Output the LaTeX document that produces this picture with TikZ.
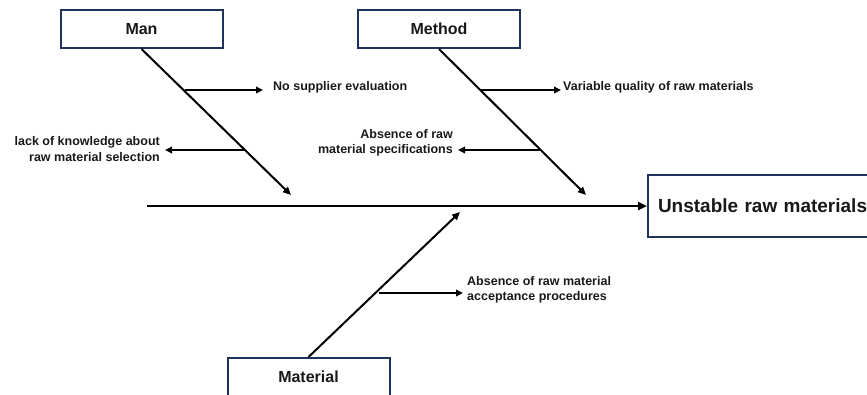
\documentclass[tikz,border=0pt]{standalone}
\usepackage{fontspec}
\setmainfont{Liberation Sans}
\usetikzlibrary{arrows.meta}
\definecolor{boxblue}{RGB}{31,50,92}
\definecolor{txt}{RGB}{25,25,25}
\tikzset{
  catbox/.style={draw=boxblue, line width=2pt, fill=white, minimum width=162pt, minimum height=38pt, inner sep=0pt, font=\fontsize{16}{19}\selectfont\bfseries, text=txt},
  effbox/.style={draw=boxblue, line width=2pt, fill=white, text width=220pt, align=left, inner xsep=10pt, minimum height=62pt, inner ysep=0pt, font=\fontsize{19}{22}\selectfont\bfseries, text=txt},
  bone/.style={line width=2pt, -{Triangle[length=8pt,width=7pt]}},
  spine/.style={line width=2.8pt, -{Triangle[length=9pt,width=8pt]}},
  twig/.style={line width=1.8pt, -{Triangle[length=7pt,width=6.5pt]}},
  lbl/.style={inner sep=0pt, font=\fontsize{12.5}{15.5}\selectfont\bfseries, text=txt}
}
\begin{document}
\begin{tikzpicture}[x=1pt,y=-1pt]
\useasboundingbox (0,0) rectangle (867,394);
\clip (0,0) rectangle (867,394);
% boxes
\node[catbox] (man) at (141.5,29) {Man};
\node[catbox] (method) at (439,29) {Method};
\node[catbox] (material) at (308.5,377) {Material};
\node[effbox, anchor=west] (effect) at (647,206) {Unstable raw materials};
% spine
\coordinate (s0) at (147,206);
\draw[spine] (s0) -- (s0 -| effect.west);
% bones
\coordinate (manend) at (291,195);
\coordinate (methend) at (586,195);
\coordinate (matend) at (460,212);
\draw[bone] (man.south) -- (manend);
\draw[bone] (method.south) -- (methend);
\draw[bone] (material.north) -- (matend);
% man twigs
\coordinate (m1) at (185,90);
\coordinate (m1e) at (263,90);
\coordinate (m2) at (245,150);
\coordinate (m2e) at (165,150);
\draw[twig] (m1) -- (m1e);
\draw[twig] (m2) -- (m2e);
\node[lbl, anchor=west] (l1) at (273,87) {No supplier evaluation};
\node[lbl, anchor=east, align=right] (l2) at (160,149) {lack of knowledge about\\raw material selection};
% method twigs
\coordinate (d1) at (481,90);
\coordinate (d1e) at (561,90);
\coordinate (d2) at (541,150);
\coordinate (d2e) at (458,150);
\draw[twig] (d1) -- (d1e);
\draw[twig] (d2) -- (d2e);
\node[lbl, anchor=west] (l3) at (563,87) {Variable quality of raw materials};
\node[lbl, anchor=east, align=right] (l4) at (453,143) {Absence of raw\\material specifications};
% material twig
\coordinate (t1) at (379,293);
\coordinate (t1e) at (463,293);
\draw[twig] (t1) -- (t1e);
\node[lbl, anchor=west, align=left] (l5) at (467,290) {Absence of raw material\\acceptance procedures};
\end{tikzpicture}
\end{document}
